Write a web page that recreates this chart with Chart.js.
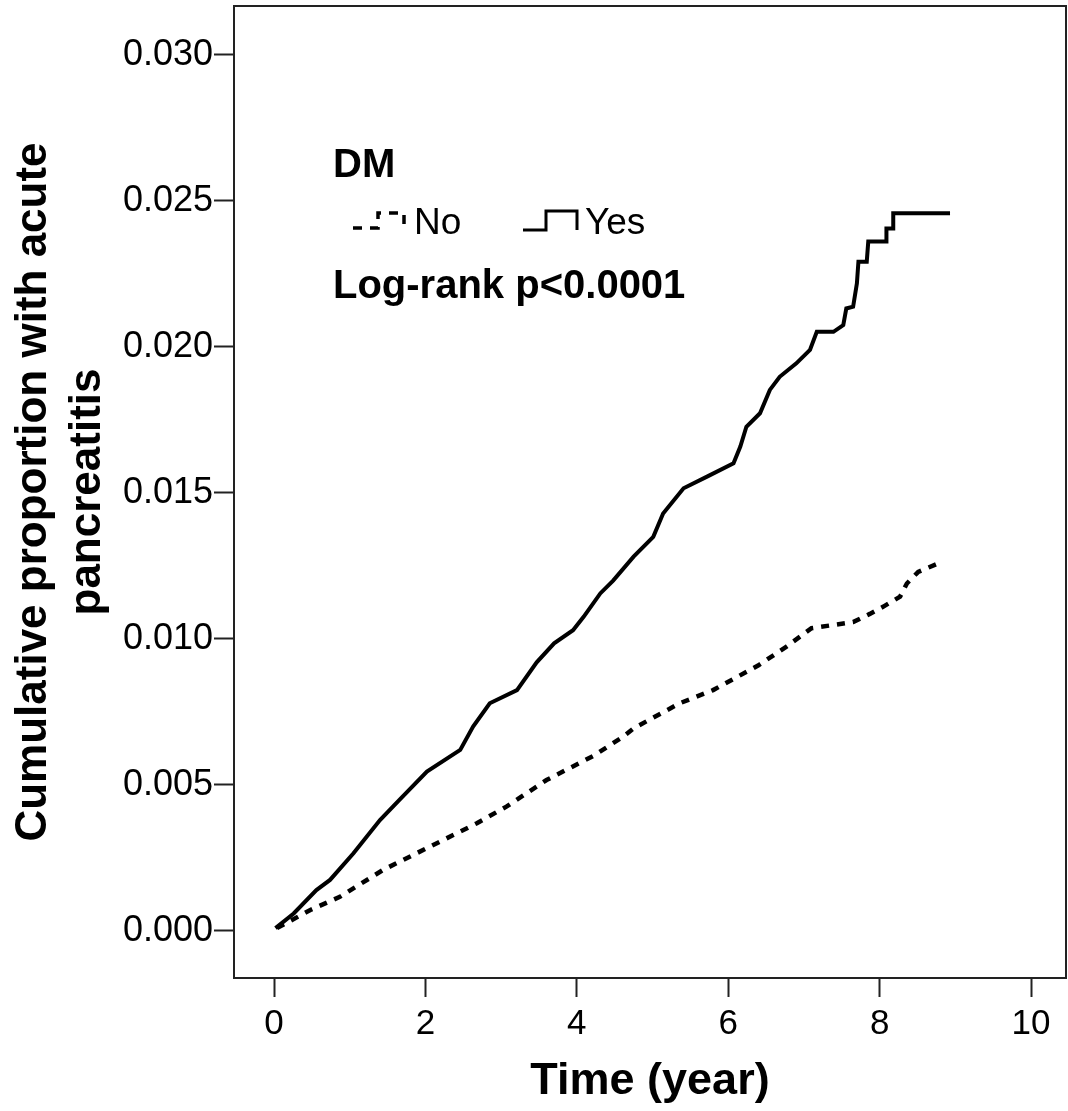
<!DOCTYPE html>
<html>
<head>
<meta charset="utf-8">
<script src="https://cdn.jsdelivr.net/npm/chart.js@4.4.1/dist/chart.umd.min.js"></script>
<style>
  html, body { margin: 0; padding: 0; background: #ffffff; }
  #c { display: block; }
</style>
</head>
<body>
<canvas id="c" width="1068" height="1111"></canvas>
<script>
// ---- data ----
const xTicks = [0, 2, 4, 6, 8, 10];
const yTicks = [0.000, 0.005, 0.010, 0.015, 0.020, 0.025, 0.030];

const yesTime = [0.02, 0.26, 0.56, 0.74, 1.05, 1.40, 1.66, 2.02, 2.46, 2.63, 2.85, 3.21, 3.47, 3.70, 3.95, 4.09, 4.31, 4.48, 4.75, 5.01, 5.14, 5.41, 5.72, 6.07, 6.16, 6.24, 6.42, 6.55, 6.68, 6.90, 7.08, 7.17, 7.39, 7.52, 7.56, 7.65, 7.70, 7.72, 7.83, 7.85, 8.09, 8.09, 8.18, 8.18, 8.93];
const yesProp = [0.0001, 0.0006, 0.0014, 0.00175, 0.00266, 0.0038, 0.0045, 0.00546, 0.0062, 0.0070, 0.0078, 0.00825, 0.0092, 0.00985, 0.0103, 0.01076, 0.01156, 0.0120, 0.01282, 0.0135, 0.0143, 0.01516, 0.01556, 0.01602, 0.01659, 0.01727, 0.01773, 0.01853, 0.01898, 0.01944, 0.0199, 0.02052, 0.02052, 0.02075, 0.02132, 0.02138, 0.02218, 0.02292, 0.02292, 0.02361, 0.02361, 0.02406, 0.02406, 0.02458, 0.02458];

const noTime = [0.04, 0.48, 0.87, 1.44, 2.06, 2.68, 3.07, 3.60, 4.22, 4.61, 4.75, 5.36, 5.80, 6.40, 6.77, 7.10, 7.39, 7.65, 7.87, 8.05, 8.27, 8.36, 8.51, 8.75, 8.82];
const noProp = [0.0001, 0.00072, 0.00117, 0.00209, 0.00289, 0.00369, 0.00426, 0.00517, 0.0060, 0.00665, 0.00694, 0.0078, 0.00825, 0.0091, 0.00974, 0.01037, 0.01048, 0.01058, 0.01086, 0.01111, 0.01145, 0.0119, 0.0123, 0.01256, 0.01256];

const groupTitle = 'DM';
const seriesNames = ['No', 'Yes'];
const testText = 'Log-rank p<0.0001';

// ---- chart ----
const FONT = "'Liberation Sans', Arial, Helvetica, sans-serif";

const framePlugin = {
  id: 'frame',
  afterDraw(chart) {
    const { ctx, chartArea: a } = chart;
    ctx.save();
    ctx.strokeStyle = '#222';
    ctx.lineWidth = 2;
    ctx.strokeRect(a.left, a.top, a.right - a.left, a.bottom - a.top);
    ctx.restore();
  }
};

const legendPlugin = {
  id: 'kmLegend',
  afterDraw(chart) {
    const { ctx } = chart;
    ctx.save();
    ctx.fillStyle = '#000';
    ctx.textBaseline = 'alphabetic';
    ctx.textAlign = 'left';
    ctx.font = "bold 40px " + FONT;
    ctx.fillText(groupTitle, 333, 177);
    ctx.fillText(testText, 333, 298);

    ctx.strokeStyle = '#000';
    ctx.lineCap = 'butt';
    ctx.lineJoin = 'miter';
    // No symbol (dashed step)
    ctx.lineWidth = 3.5;
    ctx.setLineDash([9, 8]);
    ctx.beginPath();
    ctx.moveTo(353, 228); ctx.lineTo(378, 228); ctx.lineTo(378, 213); ctx.lineTo(404, 213); ctx.lineTo(404, 228);
    ctx.stroke();
    // Yes symbol (solid step)
    ctx.setLineDash([]);
    ctx.lineWidth = 3;
    ctx.beginPath();
    ctx.moveTo(523, 230); ctx.lineTo(546, 230); ctx.lineTo(546, 211); ctx.lineTo(577, 211); ctx.lineTo(577, 230);
    ctx.stroke();

    ctx.font = "37px " + FONT;
    ctx.fillText(seriesNames[0], 414, 234);
    ctx.fillText(seriesNames[1], 585, 234);
    ctx.restore();
  }
};

new Chart(document.getElementById('c'), {
  type: 'scatter',
  data: {
    datasets: [
      {
        label: seriesNames[0],
        data: noTime.map((t, i) => ({ x: t, y: noProp[i] })),
        showLine: true,
        borderColor: '#000',
        borderWidth: 4.5,
        borderDash: [8, 8],
        borderCapStyle: 'butt',
        pointRadius: 0,
        tension: 0
      },
      {
        label: seriesNames[1],
        data: yesTime.map((t, i) => ({ x: t, y: yesProp[i] })),
        showLine: true,
        borderColor: '#000',
        borderWidth: 4,
        pointRadius: 0,
        tension: 0
      }
    ]
  },
  options: {
    responsive: false,
    animation: false,
    devicePixelRatio: 1,
    layout: { padding: { top: 6, right: 2, left: 0, bottom: 0 } },
    plugins: { legend: { display: false }, tooltip: { enabled: false }, title: { display: false } },
    scales: {
      x: {
        type: 'linear',
        min: -0.5284,
        max: 10.462,
        afterBuildTicks: s => { s.ticks = xTicks.map(v => ({ value: v })); },
        afterFit: s => { s.height = 133; s.paddingLeft = 0; s.paddingRight = 0; },
        grid: { display: true, drawOnChartArea: false, drawTicks: true, tickLength: 19, tickWidth: 2, tickColor: '#222' },
        border: { display: true, color: '#222', width: 2 },
        ticks: { color: '#000', font: { family: FONT, size: 35 }, padding: 6, maxRotation: 0, autoSkip: false, callback: v => String(v) },
        title: { display: true, text: 'Time (year)', color: '#000', font: { family: FONT, size: 45, weight: 'bold' }, padding: { top: 0, bottom: 2 } }
      },
      y: {
        type: 'linear',
        min: -0.0016096,
        max: 0.031678,
        afterBuildTicks: s => { s.ticks = yTicks.map(v => ({ value: v })); },
        afterFit: s => { s.width = 234; s.paddingTop = 0; s.paddingBottom = 0; },
        grid: { display: true, drawOnChartArea: false, drawTicks: true, tickLength: 20, tickWidth: 2, tickColor: '#222' },
        border: { display: true, color: '#222', width: 2 },
        ticks: { color: '#000', font: { family: FONT, size: 36 }, padding: 1, autoSkip: false, callback: v => Number(v).toFixed(3) },
        title: { display: true, text: ['Cumulative proportion with acute', 'pancreatitis'], color: '#000', font: { family: FONT, size: 44, weight: 'bold', lineHeight: 1.23 }, padding: { top: 7, bottom: 0 } }
      }
    }
  },
  plugins: [framePlugin, legendPlugin]
});
</script>
</body>
</html>
